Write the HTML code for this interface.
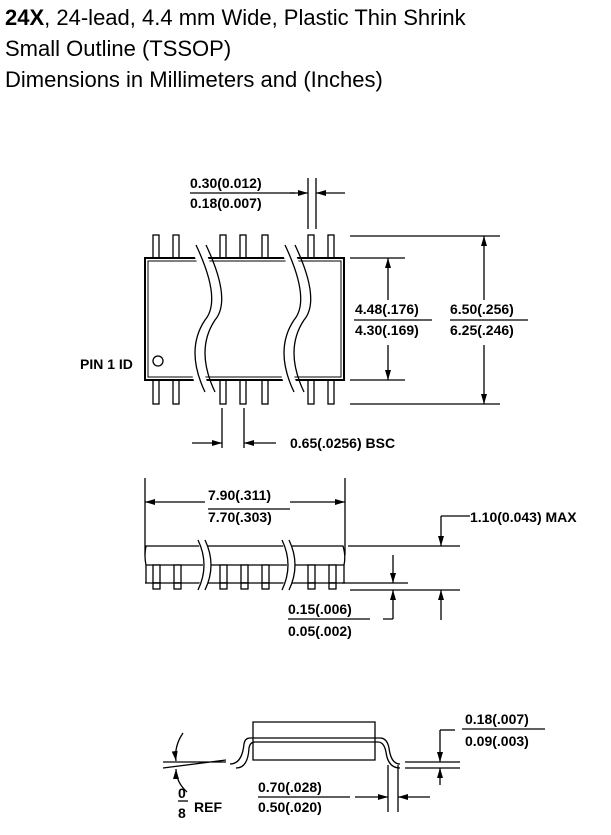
<!DOCTYPE html><html><head><style>body{margin:0;background:#fff}svg{display:block}text{font-family:"Liberation Sans",sans-serif}</style></head><body>
<svg width="611" height="835" viewBox="0 0 611 835" xmlns="http://www.w3.org/2000/svg">
<defs><marker id="a" markerWidth="10" markerHeight="6" refX="10" refY="3" orient="auto" markerUnits="userSpaceOnUse"><path d="M0,0L10,3L0,6z" fill="#000"/></marker></defs>
<text x="5" y="25" font-size="22"><tspan font-weight="bold">24X</tspan>, 24-lead, 4.4 mm Wide, Plastic Thin Shrink</text>
<text x="5" y="56" font-size="22">Small Outline (TSSOP)</text>
<text x="5" y="87" font-size="22">Dimensions in Millimeters and (Inches)</text>
<g stroke="#000" fill="none" stroke-width="1.3">
<g fill="#fff">
<rect x="153" y="235" width="6" height="23"/><rect x="173" y="235" width="6" height="23"/><rect x="220" y="235" width="6" height="23"/><rect x="240" y="235" width="6" height="23"/><rect x="262" y="235" width="6" height="23"/><rect x="308" y="235" width="6" height="23"/><rect x="328" y="235" width="6" height="23"/>
<rect x="153" y="380" width="6" height="24"/><rect x="173" y="380" width="6" height="24"/><rect x="220" y="380" width="6" height="24"/><rect x="240" y="380" width="6" height="24"/><rect x="262" y="380" width="6" height="24"/><rect x="308" y="380" width="6" height="24"/><rect x="328" y="380" width="6" height="24"/>
</g>
<rect x="145" y="258" width="199" height="122" stroke-width="2"/>
<rect x="148" y="261" width="193" height="116" stroke-width="1"/>
<path d="M196,245 Q222,300 205,320 Q185,350 205,392" stroke="#fff" stroke-width="12"/>
<path d="M196,245 Q222,300 205,320 Q185,350 205,392 M206,245 Q232,300 215,320 Q195,350 215,392"/>
<path d="M285,245 Q311,300 294,320 Q274,350 294,392" stroke="#fff" stroke-width="12"/>
<path d="M285,245 Q311,300 294,320 Q274,350 294,392 M295,245 Q321,300 304,320 Q284,350 304,392"/>
<circle cx="158" cy="361" r="5"/>
<!-- 0.30 dim -->
<path d="M308,178V229M316,178V229M190,193H295"/>
<line x1="290" y1="193" x2="308" y2="193" marker-end="url(#a)"/>
<line x1="345" y1="193" x2="316" y2="193" marker-end="url(#a)"/>
<!-- right dims -->
<path d="M350,236H500M350,404H500M350,258H405M350,380H405"/>
<line x1="388" y1="300" x2="388" y2="258" marker-end="url(#a)"/>
<line x1="388" y1="345" x2="388" y2="380" marker-end="url(#a)"/>
<line x1="484" y1="300" x2="484" y2="236" marker-end="url(#a)"/>
<line x1="484" y1="345" x2="484" y2="404" marker-end="url(#a)"/>
<path d="M354,320H432M450,320H528"/>
<!-- 0.65 -->
<path d="M222,408V448M244,408V448"/>
<line x1="192" y1="443" x2="222" y2="443" marker-end="url(#a)"/>
<line x1="276" y1="443" x2="244" y2="443" marker-end="url(#a)"/>
<!-- side view -->
<path d="M145,478V555M345,478V555"/>
<line x1="205" y1="502" x2="145" y2="502" marker-end="url(#a)"/>
<line x1="290" y1="502" x2="345" y2="502" marker-end="url(#a)"/>
<path d="M208,509H290"/>
<path d="M146,546H343Q346,556 344,565H146Q144,556 146,546Z" fill="#fff"/>
<g fill="#fff"><rect x="153" y="565" width="7" height="18"/><rect x="174" y="565" width="7" height="18"/><rect x="220" y="565" width="7" height="18"/><rect x="241" y="565" width="7" height="18"/><rect x="262" y="565" width="7" height="18"/><rect x="308" y="565" width="7" height="18"/><rect x="329" y="565" width="7" height="18"/>
<rect x="153" y="583" width="7" height="6"/><rect x="174" y="583" width="7" height="6"/><rect x="220" y="583" width="7" height="6"/><rect x="241" y="583" width="7" height="6"/><rect x="262" y="583" width="7" height="6"/><rect x="308" y="583" width="7" height="6"/><rect x="329" y="583" width="7" height="6"/></g>
<path d="M145,583H345M146,565V583M344,565V583"/>
<path d="M201,540Q213,565 201,590" stroke="#fff" stroke-width="8"/>
<path d="M285,540Q297,565 285,590" stroke="#fff" stroke-width="8"/>
<path d="M198,540Q210,565 198,590M205,540Q217,565 205,590M282,540Q294,565 282,590M289,540Q301,565 289,590"/>
<path d="M348,546H460M350,590H460M342,583H408"/>
<path d="M470,516H441"/>
<line x1="441" y1="516" x2="441" y2="546" marker-end="url(#a)"/>
<line x1="393" y1="555" x2="393" y2="583" marker-end="url(#a)"/>
<line x1="393" y1="619" x2="393" y2="590" marker-end="url(#a)"/>
<line x1="441" y1="620" x2="441" y2="590" marker-end="url(#a)"/>
<path d="M383,619H393M288,619H370"/>
<!-- bottom view -->
<path d="M253,722H375V760H253Z"/>
<path d="M230,764Q242,764 244,744Q245,738 250,738H380Q387,738 389,748Q391,764 400,764M236,768Q248,768 249,748Q250,742 255,742H378Q384,742 386,752Q388,768 400,768"/>
<path d="M163,762H226M163,768L226,760M405,762H460M405,768H460"/>
<path d="M388,765V812M398,765V812"/>
<line x1="355" y1="797" x2="388" y2="797" marker-end="url(#a)"/>
<line x1="430" y1="797" x2="398" y2="797" marker-end="url(#a)"/>
<path d="M258,797H350"/>
<path d="M455,730H440"/>
<line x1="440" y1="730" x2="440" y2="762" marker-end="url(#a)"/>
<line x1="440" y1="785" x2="440" y2="768" marker-end="url(#a)"/>
<path d="M462,729H545"/>
<path d="M183,733Q174,746 176,761" marker-end="url(#a)"/>
<path d="M187,792Q176,782 176,769" marker-end="url(#a)"/>
<path d="M178,801H188"/>
</g>
<g font-size="14" font-weight="bold">
<text x="190" y="188">0.30(0.012)</text><text x="190" y="208">0.18(0.007)</text>
<text x="355" y="314">4.48(.176)</text><text x="355" y="335">4.30(.169)</text>
<text x="450" y="314">6.50(.256)</text><text x="450" y="335">6.25(.246)</text>
<text x="80" y="369">PIN 1 ID</text>
<text x="290" y="448">0.65(.0256) BSC</text>
<text x="208" y="500">7.90(.311)</text><text x="208" y="522">7.70(.303)</text>
<text x="470" y="522">1.10(0.043) MAX</text>
<text x="288" y="614">0.15(.006)</text><text x="288" y="636">0.05(.002)</text>
<text x="465" y="724">0.18(.007)</text><text x="465" y="746">0.09(.003)</text>
<text x="258" y="792">0.70(.028)</text><text x="258" y="812">0.50(.020)</text>
<text x="178" y="798">0</text><text x="178" y="818">8</text><text x="194" y="812">REF</text>
</g>
</svg></body></html>
